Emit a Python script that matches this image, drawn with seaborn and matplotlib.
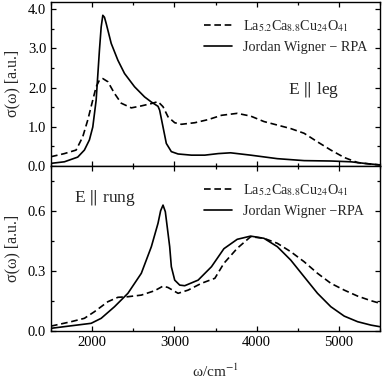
import matplotlib
matplotlib.use("Agg")
import matplotlib.pyplot as plt
from matplotlib.ticker import MultipleLocator
import pandas as pd
import seaborn as sns

# E || leg
leg_exp_w = [1500, 1663, 1805, 1886, 1947, 2008, 2049, 2089, 2130, 2191, 2272, 2354, 2476, 2597,
             2720, 2801, 2862, 2923, 3004, 3085, 3248, 3411, 3573, 3764, 3927, 4089, 4252, 4415,
             4577, 4740, 4902, 5065, 5228, 5390, 5500]
leg_exp_s = [0.23, 0.31, 0.40, 0.74, 1.17, 1.68, 2.02, 2.19, 2.23, 2.15, 1.85, 1.60, 1.48, 1.53,
             1.59, 1.64, 1.51, 1.25, 1.10, 1.06, 1.10, 1.18, 1.29, 1.34, 1.27, 1.13, 1.04, 0.95,
             0.83, 0.61, 0.40, 0.21, 0.08, 0.04, 0.02]
leg_jw_w = [1500, 1663, 1825, 1906, 1967, 2008, 2049, 2089, 2110, 2130, 2150, 2171, 2232, 2313,
            2394, 2516, 2638, 2720, 2801, 2821, 2862, 2902, 2963, 3045, 3207, 3370, 3533, 3683,
            3927, 4252, 4577, 4902, 5146, 5309, 5500]
leg_jw_s = [0.06, 0.10, 0.22, 0.40, 0.66, 0.99, 1.68, 2.96, 3.55, 3.85, 3.80, 3.64, 3.13, 2.70,
            2.36, 2.02, 1.76, 1.63, 1.52, 1.42, 0.99, 0.57, 0.36, 0.30, 0.27, 0.27, 0.31, 0.33,
            0.27, 0.18, 0.13, 0.12, 0.10, 0.06, 0.02]

# E || rung
rung_exp_w = [1500, 1744, 1906, 2028, 2191, 2313, 2435, 2598, 2760, 2862, 2923, 3045, 3167, 3329,
              3492, 3602, 3764, 3927, 4089, 4252, 4415, 4577, 4740, 4902, 5065, 5228, 5390, 5500]
rung_exp_s = [0.023, 0.045, 0.062, 0.095, 0.145, 0.167, 0.170, 0.178, 0.200, 0.223, 0.216, 0.187,
              0.203, 0.237, 0.262, 0.337, 0.412, 0.470, 0.462, 0.437, 0.395, 0.345, 0.287, 0.237,
              0.203, 0.173, 0.150, 0.137]
rung_jw_w = [1500, 1988, 2110, 2272, 2435, 2598, 2720, 2801, 2833, 2862, 2890, 2943, 2963, 3004,
             3065, 3126, 3289, 3451, 3602, 3764, 3927, 4089, 4252, 4415, 4577, 4740, 4902, 5065,
             5228, 5390, 5500]
rung_jw_s = [0.012, 0.037, 0.062, 0.120, 0.187, 0.287, 0.420, 0.537, 0.600, 0.628, 0.595, 0.420,
             0.320, 0.253, 0.228, 0.225, 0.253, 0.320, 0.410, 0.457, 0.473, 0.462, 0.420, 0.353,
             0.270, 0.187, 0.120, 0.073, 0.045, 0.028, 0.020]

lab_exp = "La$_{5.2}$Ca$_{8.8}$Cu$_{24}$O$_{41}$"
lab_jw_top = "Jordan Wigner \u2212 RPA"
lab_jw_bot = "Jordan Wigner \u2212RPA"

sns.set_style("ticks")
plt.rcParams["font.family"] = ["Liberation Serif", "DejaVu Serif"]
plt.rcParams["mathtext.fontset"] = "stix"
plt.rcParams["axes.linewidth"] = 1.0


def make_df(w1, s1, l1, w2, s2, l2):
    a = pd.DataFrame({"w": w1, "sigma": s1, "series": l1})
    b = pd.DataFrame({"w": w2, "sigma": s2, "series": l2})
    return pd.concat([a, b], ignore_index=True)


def style_axis(ax, ymax, ymajor):
    ax.set_xlim(1500, 5500)
    ax.set_ylim(0, ymax)
    ax.xaxis.set_major_locator(MultipleLocator(1000))
    ax.xaxis.set_minor_locator(MultipleLocator(500))
    ax.yaxis.set_major_locator(MultipleLocator(ymajor))
    ax.yaxis.set_minor_locator(MultipleLocator(ymajor / 2))
    ax.tick_params(which="both", direction="in", top=True, right=True,
                   labelsize=10.5, colors="black", width=0.9)
    ax.tick_params(which="major", length=3.8)
    ax.tick_params(which="minor", length=2.2)
    for s in ax.spines.values():
        s.set_visible(True)
        s.set_color("black")


fig = plt.figure(figsize=(3.82, 3.79), dpi=100)
ax1 = fig.add_axes([0.1335, 0.5628, 0.8613, 0.4319])
ax2 = fig.add_axes([0.1335, 0.1274, 0.8613, 0.4354])

df_top = make_df(leg_exp_w, leg_exp_s, lab_exp, leg_jw_w, leg_jw_s, lab_jw_top)
sns.lineplot(data=df_top, x="w", y="sigma", hue="series", style="series",
             hue_order=[lab_exp, lab_jw_top], style_order=[lab_exp, lab_jw_top],
             palette=["black", "black"], dashes={lab_exp: (4, 2.2), lab_jw_top: ""},
             linewidth=1.2, ax=ax1)
df_bot = make_df(rung_exp_w, rung_exp_s, lab_exp, rung_jw_w, rung_jw_s, lab_jw_bot)
sns.lineplot(data=df_bot, x="w", y="sigma", hue="series", style="series",
             hue_order=[lab_exp, lab_jw_bot], style_order=[lab_exp, lab_jw_bot],
             palette=["black", "black"], dashes={lab_exp: (4, 2.2), lab_jw_bot: ""},
             linewidth=1.2, ax=ax2)

style_axis(ax1, 4.19, 1.0)
style_axis(ax2, 0.825, 0.3)
ax1.set_yticklabels([f"{v:.1f}" for v in ax1.get_yticks()])
ax2.set_yticklabels([f"{v:.1f}" for v in ax2.get_yticks()])
ax1.tick_params(labelbottom=False)
ax1.set_xlabel("")
ax2.set_xlabel("\u03c9/cm$^{-1}$", fontsize=11, labelpad=10)
ax1.set_ylabel("\u03c3(\u03c9) [a.u.]", fontsize=11.5, labelpad=5)
ax2.set_ylabel("\u03c3(\u03c9) [a.u.]", fontsize=11.5, labelpad=5)

for ax in (ax1, ax2):
    sns.move_legend(ax, "upper left", bbox_to_anchor=(0.465, 0.9), frameon=False,
                    title=None, fontsize=10.2, handlelength=2.0, handletextpad=0.75,
                    labelspacing=0.5, borderpad=0, borderaxespad=0)

ax1.text(0.72, 0.4625, "E $\\Vert$ leg", transform=ax1.transAxes,
         fontsize=12.5, ha="left", va="center")
ax2.text(0.07, 0.804, "E $\\Vert$ rung", transform=ax2.transAxes,
         fontsize=12.5, ha="left", va="center")

fig.savefig("out.png", dpi=100)
